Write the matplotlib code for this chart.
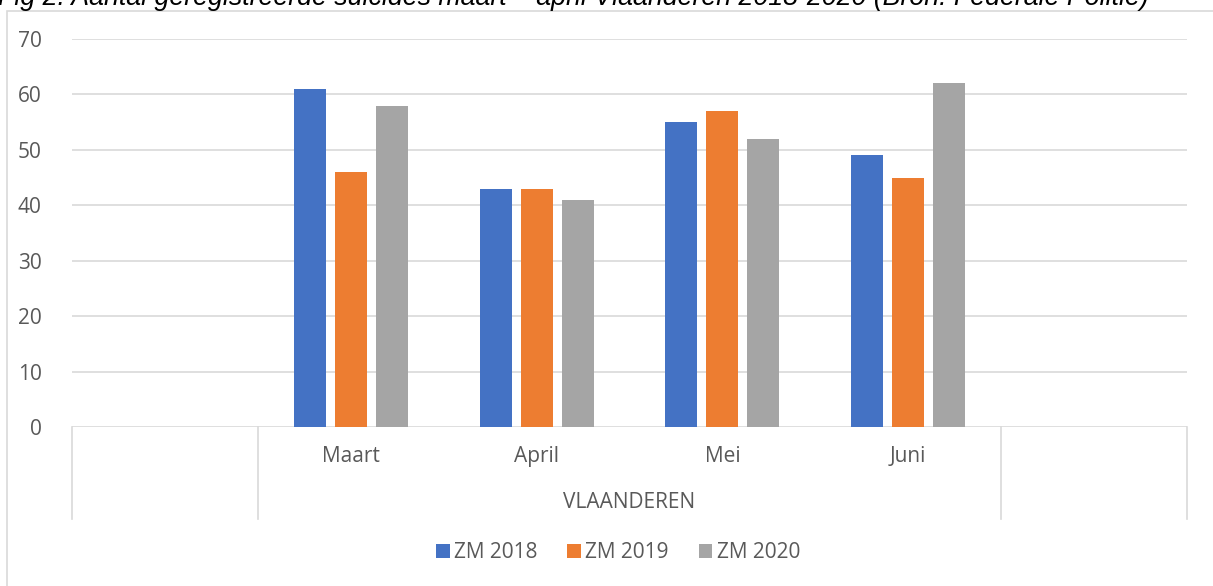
import matplotlib
matplotlib.use("Agg")
import matplotlib.pyplot as plt
import matplotlib.patches as patches
import matplotlib.transforms as mtransforms
import numpy as np

plt.rcParams['font.family'] = ['Open Sans', 'DejaVu Sans']

# data
categories = ["", "Maart", "April", "Mei", "Juni", ""]
series_names = ["ZM 2018", "ZM 2019", "ZM 2020"]
zm2018 = [None, 61, 43, 55, 49, None]
zm2019 = [None, 46, 43, 57, 45, None]
zm2020 = [None, 58, 41, 52, 62, None]
group_label = "VLAANDEREN"
title = "Fig 2. Aantal geregistreerde suicides maart \u2013 april Vlaanderen 2018-2020 (Bron: Federale Politie)"
colors = ["#4472C4", "#ED7D31", "#A5A5A5"]
text_col = "#595959"
grid_col = "#D9D9D9"
fs = 15

W, H = 1213, 586
fig = plt.figure(figsize=(W / 100, H / 100), dpi=100)

# outer chart frame (runs off the right and bottom edge)
frame = patches.Rectangle((7 / W, -0.2), 2.0, 1.2 - 11 / H, transform=fig.transFigure,
                          fill=False, edgecolor=grid_col, linewidth=1.2)
fig.patches.append(frame)

# title, cropped by the top edge as in the source image
t = fig.text(-2 / W, 1 - 5 / H, title, fontsize=15, style='italic', color='black',
             ha='left', va='baseline', family=['Liberation Sans', 'DejaVu Sans'])
fig.canvas.draw()
bb = t.get_window_extent()
t.set_fontsize(15 * 1152 / bb.width)

ax = fig.add_axes([72 / W, (H - 427) / H, (1187 - 72) / W, (427 - 39) / H])

x = np.arange(len(categories))
bw = 32 / 186
step = 41 / 186
for i, (vals, name) in enumerate(zip([zm2018, zm2019, zm2020], series_names)):
    xs = [xi + (i - 1) * step for xi, v in zip(x, vals) if v is not None]
    ys = [v for v in vals if v is not None]
    ax.bar(xs, ys, width=bw, color=colors[i], label=name, zorder=3)

ax.set_xlim(-0.5, len(categories) - 0.5)
ax.set_ylim(0, 70)
ax.set_yticks(range(0, 71, 10))
ax.yaxis.grid(True, color=grid_col, linewidth=1.2, zorder=0)
ax.set_axisbelow(True)
for s in ["top", "right", "left", "bottom"]:
    ax.spines[s].set_visible(False)
ax.tick_params(axis='y', length=0, pad=22, labelsize=fs, labelcolor=text_col)

ax.set_xticks(x[1:-1])
ax.set_xticklabels(categories[1:-1])
ax.tick_params(axis='x', length=0, pad=14, labelsize=fs, labelcolor=text_col)

# multi-level category separators
trans = mtransforms.blended_transform_factory(ax.transData, ax.transAxes)
sep_depth = (519 - 427) / (427 - 39)
for xb in [-0.5, 0.5, len(categories) - 1.5, len(categories) - 0.5]:
    ax.plot([xb, xb], [0, -sep_depth], transform=trans, color=grid_col,
            linewidth=1.2, clip_on=False)

ax.text((x[1] + x[-2]) / 2, -(503 - 427) / (427 - 39), group_label, transform=trans,
        ha='center', va='center', fontsize=fs, color=text_col)

fig.legend(loc='center', bbox_to_anchor=(618 / W, 1 - 553 / H), ncol=3, frameon=False,
           fontsize=fs, labelcolor=text_col, handlelength=0.65, handleheight=0.65,
           handletextpad=0.2, columnspacing=1.45)

fig.savefig("out.png", dpi=100)
